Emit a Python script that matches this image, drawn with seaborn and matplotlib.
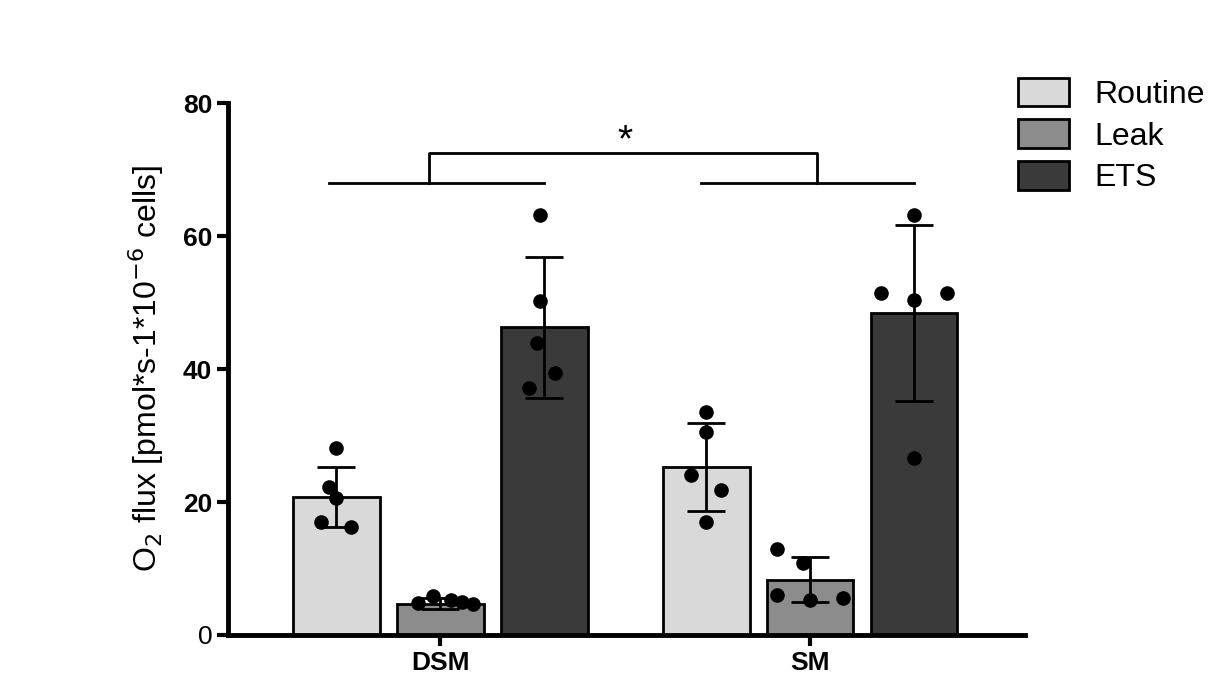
import matplotlib
matplotlib.use("Agg")
import matplotlib.pyplot as plt
import seaborn as sns
import pandas as pd
import numpy as np

plt.rcParams["font.family"] = "Liberation Sans"

groups = ["DSM", "SM"]
conditions = ["Routine", "Leak", "ETS"]
means = {"DSM": [20.7, 4.7, 46.3], "SM": [25.3, 8.3, 48.4]}
sds = {"DSM": [4.5, 0.8, 10.6], "SM": [6.6, 3.4, 13.2]}
points = {
    ("DSM", "Routine"): [28.1, 22.3, 20.6, 17.0, 16.2],
    ("DSM", "Leak"): [5.9, 5.3, 4.8, 5.0, 4.7],
    ("DSM", "ETS"): [63.2, 50.2, 43.9, 39.4, 37.1],
    ("SM", "Routine"): [33.5, 30.5, 24.1, 21.8, 17.0],
    ("SM", "Leak"): [12.9, 10.8, 5.3, 6.0, 5.6],
    ("SM", "ETS"): [63.2, 51.4, 50.4, 51.4, 26.6],
}
jitter = [-0.0, -0.03, 0.03, -0.045, 0.045]
jit = {
    ("DSM", "Routine"): [0.0, -0.02, 0.0, -0.04, 0.04],
    ("DSM", "Leak"): [-0.02, 0.03, -0.06, 0.06, 0.09],
    ("DSM", "ETS"): [-0.01, -0.01, -0.02, 0.03, -0.04],
    ("SM", "Routine"): [0.0, 0.0, -0.04, 0.04, 0.0],
    ("SM", "Leak"): [-0.09, -0.02, 0.0, -0.09, 0.09],
    ("SM", "ETS"): [0.0, -0.09, 0.0, 0.09, 0.0],
}
colors = ["#d9d9d9", "#8c8c8c", "#3a3a3a"]

df = pd.DataFrame([(g, c, means[g][i]) for g in groups for i, c in enumerate(conditions)],
                  columns=["group", "cond", "value"])

fig = plt.figure(figsize=(12.14, 6.98), dpi=100)
ax = fig.add_axes([0.188, 0.0903, 0.656, 0.762])
sns.barplot(data=df, x="group", y="value", hue="cond", hue_order=conditions,
            palette=colors, width=0.843, gap=0.165, errorbar=None,
            edgecolor="black", linewidth=2, ax=ax, legend=False, zorder=2)

step = 0.281
for gi, g in enumerate(groups):
    for ci, c in enumerate(conditions):
        x = gi + (ci - 1) * step
        m, s = means[g][ci], sds[g][ci]
        ax.errorbar(x, m, yerr=s, color="black", capsize=14, capthick=2, elinewidth=2, zorder=3)
        ax.scatter([x + j for j in jit[(g, c)]], points[(g, c)], color="black", s=90, zorder=4)

# significance bracket
lw = 2
ax.plot([-0.3, 0.28], [68, 68], color="black", lw=lw, clip_on=False)
ax.plot([0.706, 1.28], [68, 68], color="black", lw=lw, clip_on=False)
ax.plot([-0.03, -0.03, 1.02, 1.02], [68, 72.5, 72.5, 68], color="black", lw=lw, clip_on=False)
ax.text(0.5, 71.5, "*", ha="center", va="bottom", fontsize=28)

ax.set_xlim(-0.573, 1.58)
ax.set_ylim(0, 80)
ax.set_yticks([0, 20, 40, 60, 80])
ax.set_yticklabels(["0", "20", "40", "60", "80"], fontsize=19)
for t in ax.get_yticklabels()[1:]:
    t.set_fontweight("bold")
ax.set_xticks([0, 1])
ax.set_xticklabels(groups, fontsize=19, fontweight="bold")
ax.set_xlabel("")
ax.set_ylabel("O$_2$ flux [pmol*s-1*10$^{-6}$ cells]", fontsize=23, labelpad=12)
for sp in ["top", "right"]:
    ax.spines[sp].set_visible(False)
for sp in ["left", "bottom"]:
    ax.spines[sp].set_linewidth(3.5)
ax.tick_params(axis="both", width=3, length=8, direction="out")

from matplotlib.patches import Patch
handles = [Patch(facecolor=colors[i], edgecolor="black", linewidth=2, label=c) for i, c in enumerate(conditions)]
fig.legend(handles=handles, loc="upper left", bbox_to_anchor=(0.815, 0.93), frameon=False,
           fontsize=23, handlelength=1.6, handleheight=1.0, labelspacing=0.3)
fig.savefig("out.png", dpi=100)
